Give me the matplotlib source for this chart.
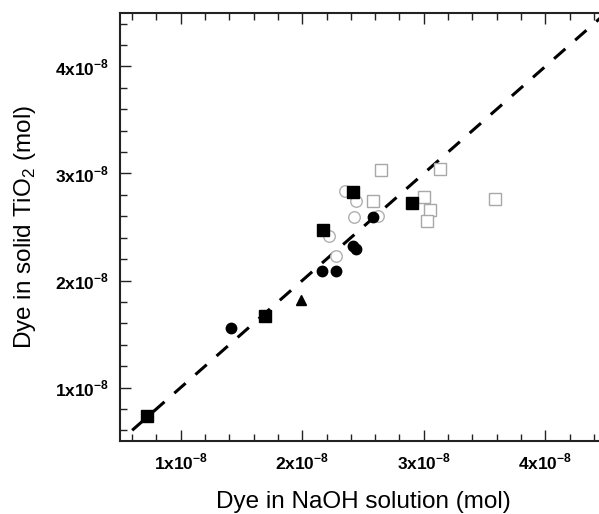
import numpy as np
import matplotlib
matplotlib.use("Agg")
import matplotlib.pyplot as plt
from matplotlib.ticker import MultipleLocator, FixedFormatter, FixedLocator

plt.rcParams["font.family"] = ["Liberation Sans", "DejaVu Sans"]
plt.rcParams["mathtext.fontset"] = "custom"
plt.rcParams["mathtext.rm"] = "Liberation Sans"
plt.rcParams["mathtext.bf"] = "Liberation Sans:bold"

# -----------------------------
# Data (units of 1e-8 mol)
# -----------------------------
sq_fill_x = [0.72, 1.69, 2.17, 2.42, 2.90]
sq_fill_y = [0.73, 1.67, 2.47, 2.83, 2.72]

circ_fill_x = [1.41, 2.16, 2.28, 2.42, 2.44, 2.58]
circ_fill_y = [1.56, 2.09, 2.09, 2.32, 2.29, 2.59]

tri_fill_x = [1.99]
tri_fill_y = [1.82]

circ_open_x = [2.35, 2.44, 2.43, 2.62, 2.22, 2.28]
circ_open_y = [2.84, 2.74, 2.59, 2.60, 2.42, 2.23]

sq_open_x = [2.65, 3.13, 2.58, 3.00, 3.05, 3.03, 3.59]
sq_open_y = [3.03, 3.04, 2.74, 2.78, 2.66, 2.56, 2.76]

fit_x = [0.6, 4.5]
fit_y = [0.6, 4.5]

# -----------------------------
# Figure
# -----------------------------
fig = plt.figure(figsize=(5.99, 5.14), dpi=100)
ax = fig.add_axes([120 / 599, 73 / 514, 486 / 599, 428 / 514])

scale = 1e-8
ax.plot(np.array(fit_x) * scale, np.array(fit_y) * scale, color="black",
        lw=2.2, dashes=(4.9, 4.3), zorder=1)

ax.plot(np.array(circ_open_x) * scale, np.array(circ_open_y) * scale, "o",
        ms=8.3, mfc="white", mec="#b0b0b0", mew=1.0, ls="none", zorder=2)
ax.plot(np.array(sq_open_x) * scale, np.array(sq_open_y) * scale, "s",
        ms=8.5, mfc="white", mec="#a8a8a8", mew=1.0, ls="none", zorder=2)
ax.plot(np.array(circ_fill_x) * scale, np.array(circ_fill_y) * scale, "o",
        ms=7.5, color="black", ls="none", zorder=3)
ax.plot(np.array(sq_fill_x) * scale, np.array(sq_fill_y) * scale, "s",
        ms=8.5, color="black", ls="none", zorder=3)
ax.plot(np.array(tri_fill_x) * scale, np.array(tri_fill_y) * scale, "^",
        ms=7.5, color="black", ls="none", zorder=3)

ax.set_xlim(0.5e-8, 4.5e-8)
ax.set_ylim(0.5e-8, 4.5e-8)

major = [1e-8, 2e-8, 3e-8, 4e-8]
labels = [r"%dx10$^{\mathbf{-8}}$" % k for k in (1, 2, 3, 4)]
for axis in (ax.xaxis, ax.yaxis):
    axis.set_major_locator(FixedLocator(major))
    axis.set_major_formatter(FixedFormatter(labels))
    axis.set_minor_locator(MultipleLocator(0.2e-8))

ax.tick_params(which="both", direction="in", top=True, right=False,
               width=1.0, color="#222222")
ax.tick_params(which="major", length=8, labelsize=12.5, pad=8)
ax.tick_params(which="minor", length=5)
for lab in ax.get_xticklabels() + ax.get_yticklabels():
    lab.set_fontweight("bold")

for sp in ax.spines.values():
    sp.set_linewidth(1.5)
    sp.set_color("#222222")

ax.set_xlabel("Dye in NaOH solution (mol)", fontsize=17.5, labelpad=13)
ax.set_ylabel(r"Dye in solid TiO$_\mathrm{2}$ (mol)", fontsize=17.5, labelpad=12)

fig.savefig("out.png", dpi=100)
